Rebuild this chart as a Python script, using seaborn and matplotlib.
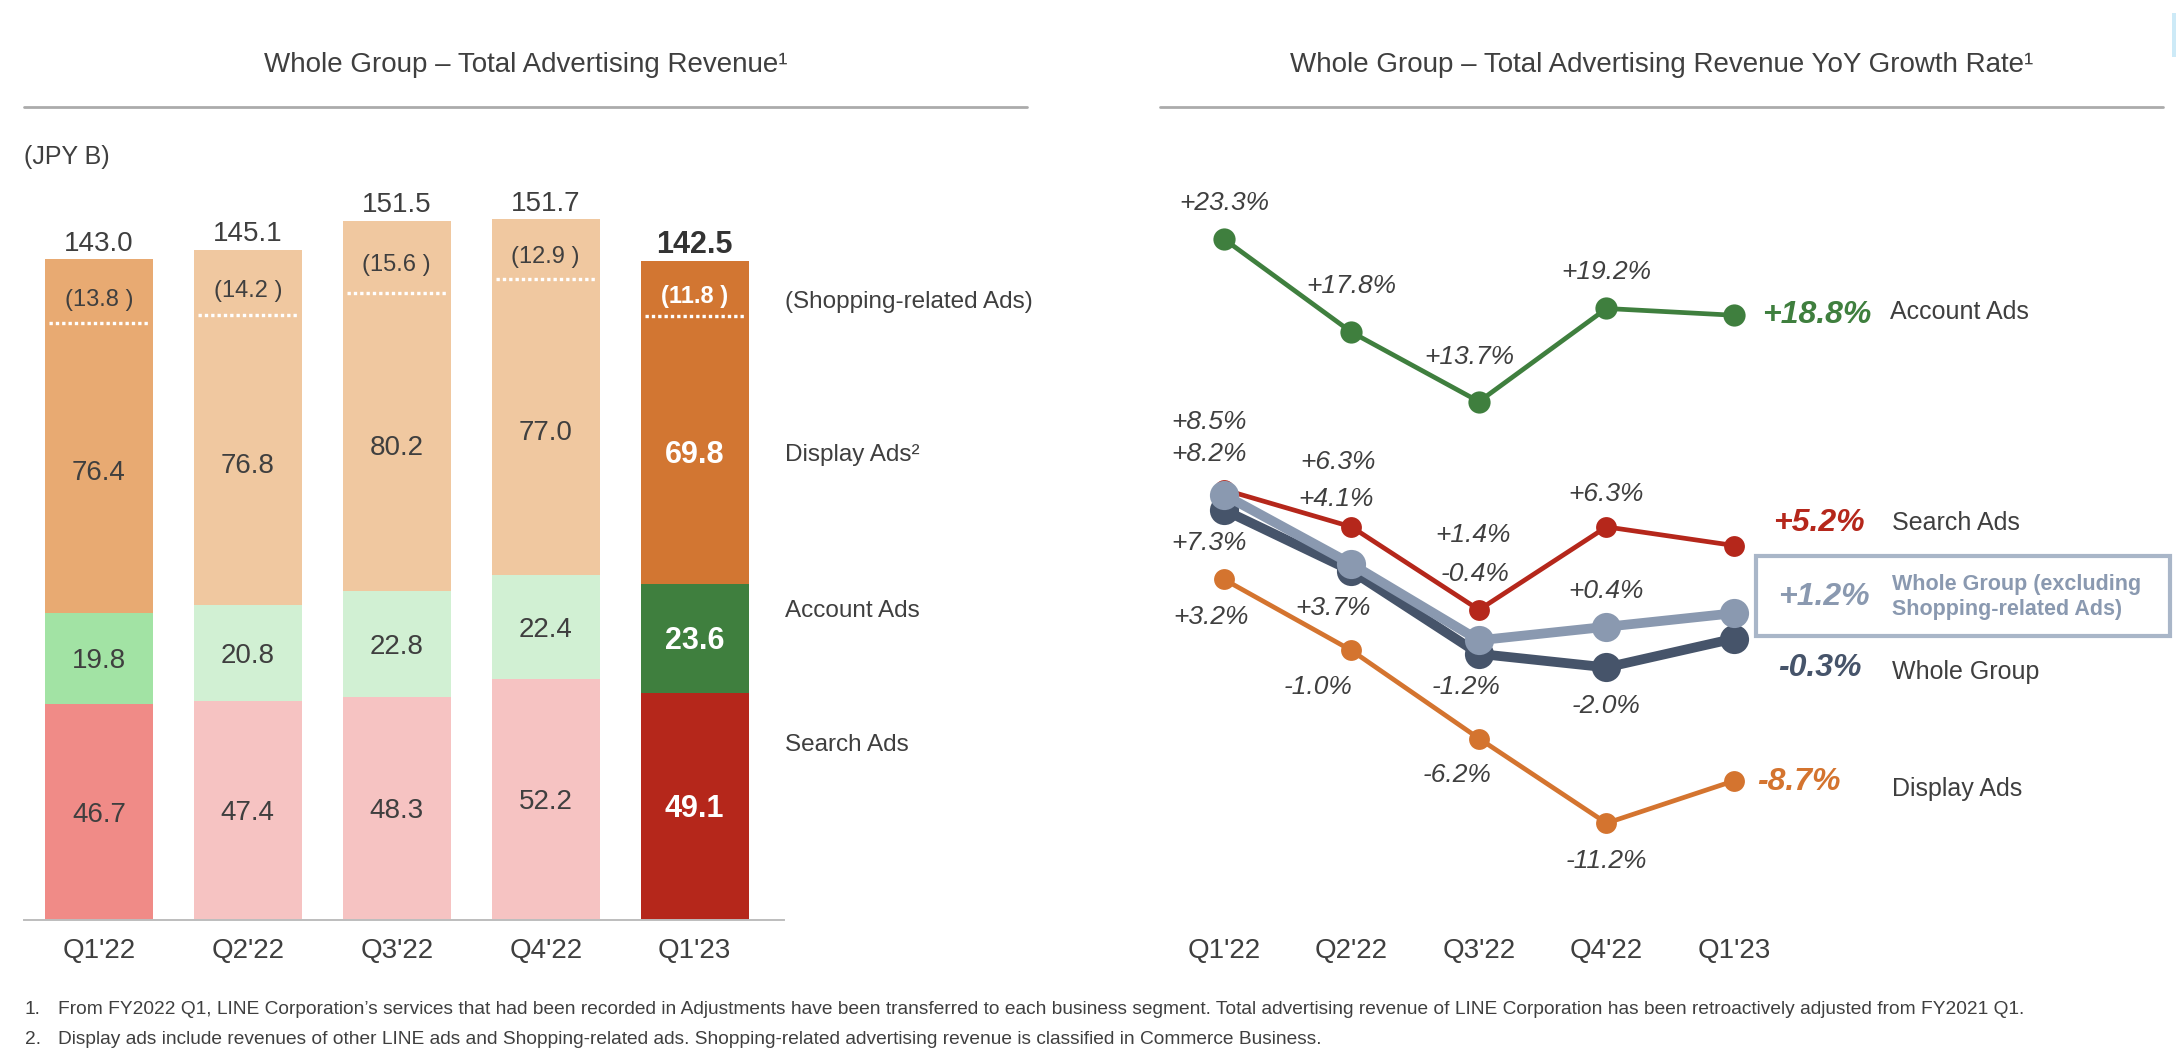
"""
Whole Group advertising revenue: stacked bars (JPY B) and YoY growth lines
"""

import numpy as np
import pandas as pd
import matplotlib
matplotlib.use("Agg")
import matplotlib.pyplot as plt
from matplotlib.lines import Line2D
from matplotlib.patches import Rectangle
import seaborn as sns

# Data
quarters = ["Q1'22", "Q2'22", "Q3'22", "Q4'22", "Q1'23"]
search_ads = [46.7, 47.4, 48.3, 52.2, 49.1]
account_ads = [19.8, 20.8, 22.8, 22.4, 23.6]
display_ads = [76.4, 76.8, 80.2, 77.0, 69.8]
shopping_ads = [13.8, 14.2, 15.6, 12.9, 11.8]
totals = [143.0, 145.1, 151.5, 151.7, 142.5]

yoy_account = [23.3, 17.8, 13.7, 19.2, 18.8]
yoy_search = [8.5, 6.3, 1.4, 6.3, 5.2]
yoy_whole_excl = [8.2, 4.1, -0.4, 0.4, 1.2]
yoy_whole = [7.3, 3.7, -1.2, -2.0, -0.3]
yoy_display = [3.2, -1.0, -6.2, -11.2, -8.7]

# Colours
search_colors = ['#F08B87', '#F6C3C2', '#F6C3C2', '#F6C3C2', '#B5271B']
account_colors = ['#A2E3A4', '#D1F0D3', '#D1F0D3', '#D1F0D3', '#3F7F3E']
display_colors = ['#E8AA72', '#F0C8A0', '#F0C8A0', '#F0C8A0', '#D27632']
GREEN, RED, ORANGE = '#3F7F3E', '#B5271B', '#D4742F'
NAVY, STEEL = '#46546A', '#8A99B0'
TXT = '#3F3F3F'

# Figure geometry (pixels of the 2176x1058 output)
W, H = 2176, 1058


def fx(x):
    return x / W


def fy(y):
    return 1 - y / H


sns.set_style("white")
plt.rcParams['font.family'] = ['Liberation Sans', 'DejaVu Sans']

fig = plt.figure(figsize=(W / 100, H / 100), dpi=100)

# ---------------- Left: stacked bars ----------------
ax1 = fig.add_axes([fx(24), fy(920), fx(784 - 24), (920 - 160) / H])

bars = pd.DataFrame({'quarter': quarters, 'search': search_ads, 'account': account_ads,
                     'display': display_ads, 'shopping': shopping_ads})
bars['acc_top'] = bars['search'] + bars['account']
bars['disp_top'] = bars['acc_top'] + bars['display']

BAR_W = 0.725
for col, colors in [('disp_top', display_colors), ('acc_top', account_colors),
                    ('search', search_colors)]:
    sns.barplot(data=bars, x='quarter', y=col, hue='quarter', order=quarters,
                hue_order=quarters, palette=dict(zip(quarters, colors)),
                saturation=1, width=BAR_W, linewidth=0, errorbar=None,
                legend=False, ax=ax1)

ax1.set_xlim(-0.503, 4.6)
ax1.set_ylim(0, 164.4)
ax1.set_xlabel('')
ax1.set_ylabel('')
ax1.set_yticks([])
for s in ['top', 'right', 'left']:
    ax1.spines[s].set_visible(False)
ax1.spines['bottom'].set_color('#BDBDBD')
ax1.spines['bottom'].set_linewidth(1.4)
ax1.tick_params(axis='x', length=0, pad=13, labelsize=20, labelcolor=TXT)

for i, row in bars.iterrows():
    last = i == len(quarters) - 1
    col = 'white' if last else TXT
    wt = 'bold' if last else 'normal'
    fs = 22 if last else 20
    shop_line = row['disp_top'] - row['shopping']
    # dotted white divider for Shopping-related Ads
    ax1.plot([i - BAR_W / 2 + 0.03, i + BAR_W / 2 - 0.03], [shop_line, shop_line],
             color='white', lw=2.4, ls=(0, (1.0, 0.9)), solid_capstyle='butt')
    ax1.annotate(f"{row['search']:.1f}", (i, row['search'] / 2), xytext=(0, -2),
                 textcoords='offset points', ha='center', va='center',
                 fontsize=fs, color=col, fontweight=wt)
    ax1.annotate(f"{row['account']:.1f}", (i, row['search'] + row['account'] / 2),
                 xytext=(0, -2), textcoords='offset points', ha='center', va='center',
                 fontsize=fs, color=col, fontweight=wt)
    ax1.annotate(f"{row['display']:.1f}", (i, (row['acc_top'] + shop_line) / 2),
                 xytext=(0, -4), textcoords='offset points', ha='center', va='center',
                 fontsize=fs, color=col, fontweight=wt)
    ax1.annotate(f"({row['shopping']:.1f} )", (i, row['disp_top'] - row['shopping'] / 2),
                 xytext=(0, -6), textcoords='offset points', ha='center', va='center',
                 fontsize=17, color=col, fontweight=wt)
    ax1.annotate(f"{totals[i]:.1f}", (i, row['disp_top']), xytext=(0, 6),
                 textcoords='offset points', ha='center', va='baseline',
                 fontsize=22 if last else 20, color='#333333' if last else TXT,
                 fontweight=wt)

# labels to the right of the bars
for txt, y in [('(Shopping-related Ads)', 302), ('Display Ads²', 455),
               ('Account Ads', 611), ('Search Ads', 745)]:
    fig.text(fx(785), fy(y), txt, ha='left', va='center', fontsize=17.5, color=TXT)

fig.text(fx(24), fy(157), '(JPY B)', ha='left', va='center', fontsize=18, color=TXT)

# ---------------- Right: YoY growth lines ----------------
ax2 = fig.add_axes([fx(1160), fy(920), fx(2176 - 1160), (920 - 160) / H])
xpos = np.arange(len(quarters))

series = [
    ('Display Ads', yoy_display, ORANGE, 3.4, 15),
    ('Account Ads', yoy_account, GREEN, 3.4, 16),
    ('Search Ads', yoy_search, RED, 3.4, 15),
    ('Whole Group', yoy_whole, NAVY, 7, 21),
    ('Whole Group (excl.)', yoy_whole_excl, STEEL, 7, 21),
]
for name, vals, c, lw, ms in series:
    sns.lineplot(x=xpos, y=vals, color=c, linewidth=lw, marker='o', markersize=ms,
                 markeredgewidth=0, markeredgecolor=c, ax=ax2)

ax2.set_xlim(-0.502, 7.467)
ax2.set_ylim(-16.92, 27.97)
ax2.set_xticks(xpos)
ax2.set_xticklabels(quarters)
ax2.set_yticks([])
for s in ax2.spines.values():
    s.set_visible(False)
ax2.tick_params(axis='x', length=0, pad=13, labelsize=20, labelcolor=TXT)

# point labels: offsets in points for the first four quarters
label_offsets = {
    'Account Ads': [(0, 26), (0, 33), (-7, 32), (0, 26)],
    'Search Ads': [(-11, 49), (-10, 47), (-4, 54), (0, 24)],
    'Whole Group (excl.)': [(-11, 29), (-11, 47), (-3, 48), (0, 26)],
    'Whole Group': [(-11, -24), (-13, -27), (-9, -24), (0, -28)],
    'Display Ads': [(-9, -27), (-24, -26), (-16, -26), (0, -27)],
}
for name, vals, c, lw, ms in series:
    for i in range(4):
        dx, dy = label_offsets[name][i]
        ax2.annotate(f"{vals[i]:+.1f}%", (xpos[i], vals[i]), xytext=(dx, dy),
                     textcoords='offset points', ha='center', va='center',
                     fontsize=19, style='italic', color=TXT)

# end-of-line labels
end_labels = [
    ('Account Ads', yoy_account, GREEN, (20, 0), (112, 2)),
    ('Search Ads', yoy_search, RED, (28, 16), (114, 16)),
    ('Whole Group', yoy_whole, NAVY, (32, -21), (114, -24)),
    ('Display Ads', yoy_display, ORANGE, (17, -1), (114, -6)),
]
for name, vals, c, (dx, dy), (nx, ny) in end_labels:
    ax2.annotate(f"{vals[-1]:+.1f}%", (xpos[-1], vals[-1]), xytext=(dx, dy),
                 textcoords='offset points', ha='left', va='center', fontsize=23,
                 fontweight='bold', style='italic', color=c)
    ax2.annotate(name, (xpos[-1], vals[-1]), xytext=(nx, ny),
                 textcoords='offset points', ha='left', va='center', fontsize=18,
                 color=TXT)

ax2.annotate(f"{yoy_whole_excl[-1]:+.1f}%", (xpos[-1], yoy_whole_excl[-1]),
             xytext=(32, 12), textcoords='offset points', ha='left', va='center',
             fontsize=23, fontweight='bold', style='italic', color=STEEL)
ax2.annotate('Whole Group (excluding\nShopping-related Ads)',
             (xpos[-1], yoy_whole_excl[-1]), xytext=(114, 12),
             textcoords='offset points', ha='left', va='center', fontsize=15.5,
             fontweight='bold', color=STEEL, linespacing=1.25)
fig.add_artist(Rectangle((fx(1756), fy(636)), fx(2170 - 1756), (636 - 556) / H,
                         transform=fig.transFigure, fill=False,
                         edgecolor='#A9B6C8', linewidth=3))

# ---------------- Titles, rules, footnotes ----------------
fig.text(fx(526), fy(65), 'Whole Group – Total Advertising Revenue¹', ha='center',
         va='center', fontsize=20, color=TXT)
fig.text(fx(1662), fy(65), 'Whole Group – Total Advertising Revenue YoY Growth Rate¹',
         ha='center', va='center', fontsize=20, color=TXT)
fig.add_artist(Line2D([fx(24), fx(1027)], [fy(107), fy(107)], color='#ABABAB', lw=2))
fig.add_artist(Line2D([fx(1160), fx(2163)], [fy(107), fy(107)], color='#ABABAB', lw=2))
fig.add_artist(Rectangle((fx(2172), fy(57)), fx(4), 44 / H, transform=fig.transFigure,
                         color='#CDEAF7', linewidth=0))

notes = [
    "From FY2022 Q1, LINE Corporation’s services that had been recorded in Adjustments "
    "have been transferred to each business segment. Total advertising revenue of LINE "
    "Corporation has been retroactively adjusted from FY2021 Q1.",
    "Display ads include revenues of other LINE ads and Shopping-related ads. "
    "Shopping-related advertising revenue is classified in Commerce Business.",
]
for k, (note, y) in enumerate(zip(notes, [1010, 1040])):
    fig.text(fx(25), fy(y), f"{k + 1}.", ha='left', va='center', fontsize=13.8, color=TXT)
    fig.text(fx(58), fy(y), note, ha='left', va='center', fontsize=13.8, color=TXT)

fig.savefig('out.png', dpi=100)
